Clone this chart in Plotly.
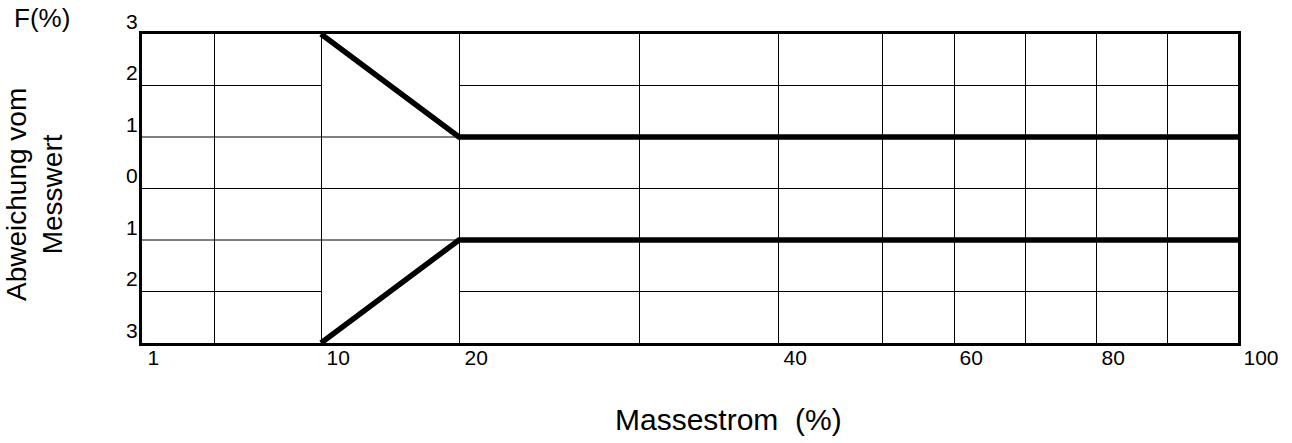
import numpy as np
import plotly.graph_objects as go

# ---- data ----
x_upper = [10, 20, 100]
y_upper = [3, 1, 1]
x_lower = [10, 20, 100]
y_lower = [-3, -1, -1]

x_tick_values = [1, 10, 20, 40, 60, 80, 100]
x_tick_labels = ["1", "10", "20", "40", "60", "80", "100"]
x_grid_values = [1, 5, 10, 20, 30, 40, 50, 60, 70, 80, 90, 100]
y_tick_values = [-3, -2, -1, 0, 1, 2, 3]
y_tick_labels = ["3", "2", "1", "0", "1", "2", "3"]

# ---- nonlinear axis scale of the original drawing (value -> axis position) ----
SCALE_POS = [0, 72, 179, 317, 497, 636, 740, 812, 883, 954, 1025, 1096]


def sx(v):
    return np.interp(v, x_grid_values, SCALE_POS)


FONT = "Arial, Liberation Sans, sans-serif"

fig = go.Figure()
for xs, ys in ((x_upper, y_upper), (x_lower, y_lower)):
    fig.add_trace(go.Scatter(x=sx(xs), y=ys, mode="lines",
                             line=dict(color="black", width=5.5),
                             showlegend=False, hoverinfo="skip", cliponaxis=False))

# horizontal grid lines (the +-2 lines are interrupted between 10 and 20)
shapes = []
x0, x1 = sx(x_grid_values[0]), sx(x_grid_values[-1])
gap0, gap1 = sx(10), sx(20)
for yv in [-2, -1, 0, 1, 2]:
    if abs(yv) == 2:
        segs = [(x0, gap0), (gap1, x1)]
    else:
        segs = [(x0, x1)]
    for a, b in segs:
        shapes.append(dict(type="line", xref="x", yref="y", x0=a, x1=b, y0=yv, y1=yv,
                           line=dict(color="black", width=1), layer="below"))

ticktext = [x_tick_labels[x_tick_values.index(v)] if v in x_tick_values else ""
            for v in x_grid_values]

fig.update_layout(
    width=1292, height=443,
    margin=dict(l=142, r=54, t=34, b=100, autoexpand=False),
    plot_bgcolor="white", paper_bgcolor="white",
    font=dict(family=FONT, color="black", size=21),
    shapes=shapes,
    xaxis=dict(range=[x0, x1], tickvals=list(sx(x_grid_values)), ticktext=ticktext,
               showgrid=True, gridcolor="black", gridwidth=1, zeroline=False,
               showline=True, linecolor="black", linewidth=3, mirror=True,
               ticks="", ticklabelposition="outside right", automargin=False,
               ticklabelstandoff=-6, ticklabelshift=4, ticklabeloverflow="allow",
               tickfont=dict(size=21, family=FONT)),
    yaxis=dict(range=[-3, 3], tickvals=y_tick_values, ticktext=y_tick_labels,
               showgrid=False, zeroline=False, automargin=False,
               showline=True, linecolor="black", linewidth=3, mirror=True,
               ticks="", ticklabelposition="outside top", ticklabeloverflow="allow",
               ticklabelstandoff=-3, ticklabelshift=2,
               tickfont=dict(size=21, family=FONT)),
    annotations=[
        dict(text="Massestrom\u00a0 (%)", xref="paper", yref="paper",
             x=0.4297, y=-0.246, xanchor="left", yanchor="middle",
             showarrow=False, font=dict(size=30, family=FONT)),
        dict(text="Abweichung vom<br>Messwert", xref="paper", yref="paper",
             x=-0.0976, y=0.479, xanchor="center", yanchor="middle", textangle=-90,
             showarrow=False, font=dict(size=28, family=FONT)),
        dict(text="F(%)", xref="paper", yref="paper",
             x=-0.0912, y=1.052, xanchor="center", yanchor="middle",
             showarrow=False, font=dict(size=26, family=FONT)),
    ],
)

# remove the page's default 8px body margin so the figure fills the window exactly
fig.write_html("out.html", config={"displayModeBar": False},
               post_script="document.body.style.margin='0px';")
